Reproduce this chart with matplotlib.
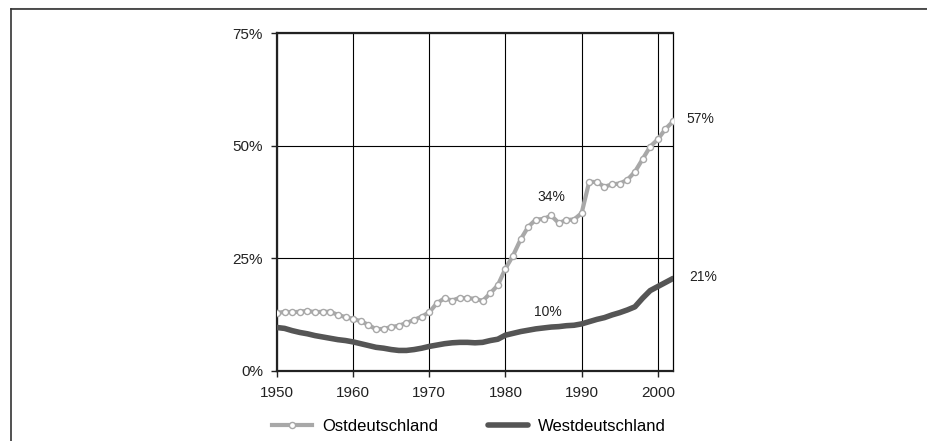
import numpy as np
import matplotlib
matplotlib.use('Agg')
import matplotlib.pyplot as plt
from matplotlib.lines import Line2D

plt.rcParams['font.family'] = ['Liberation Sans', 'DejaVu Sans']

# data (share in percent)
years = list(range(1950, 2003))

ost = [12.8, 13.1, 13.0, 13.1, 13.3, 13.0, 13.1, 13.1, 12.4, 11.9,
       11.5, 11.0, 10.2, 9.2, 9.3, 9.7, 10.0, 10.6, 11.3, 12.0,
       13.0, 15.0, 16.1, 15.6, 16.2, 16.1, 16.0, 15.5, 17.2, 19.0,
       22.7, 25.6, 29.2, 32.0, 33.6, 33.7, 34.5, 32.8, 33.5, 33.6,
       35.0, 42.0, 41.9, 40.9, 41.4, 41.6, 42.4, 44.2, 47.0, 49.8,
       51.4, 53.7, 55.4]

west = [9.6, 9.4, 8.9, 8.5, 8.2, 7.8, 7.5, 7.2, 6.9, 6.7,
        6.4, 6.0, 5.6, 5.2, 5.0, 4.7, 4.5, 4.5, 4.7, 5.0,
        5.4, 5.7, 6.0, 6.2, 6.3, 6.3, 6.2, 6.3, 6.7, 7.0,
        7.9, 8.3, 8.7, 9.0, 9.3, 9.5, 9.7, 9.8, 10.0, 10.1,
        10.4, 10.9, 11.4, 11.8, 12.4, 12.9, 13.5, 14.2, 16.1, 17.8,
        18.7, 19.6, 20.5]

labels = ['Ostdeutschland', 'Westdeutschland']

# annotation texts and where they sit (year, percent)
note_text = ['57%', '21%', '34%', '10%']
note_x = [2005.6, 2006.0, 1986.0, 1985.6]
note_y = [55.9, 20.8, 38.6, 13.0]

xticks = [1950, 1960, 1970, 1980, 1990, 2000]
yticks = [0, 25, 50, 75]

fig = plt.figure(figsize=(9.27, 4.41), dpi=100)
ax = fig.add_axes([0.2988, 0.1594, 0.7260 - 0.2988, 0.9247 - 0.1594])

ax.plot(years, ost, color='#a8a8a8', lw=3.0, marker='o', ms=4.4,
        mfc='white', mec='#a8a8a8', mew=1.0, label=labels[0], zorder=3)
ax.plot(years, west, color='#555555', lw=4.0, label=labels[1], zorder=3,
        solid_capstyle='round')

ax.set_xlim(1950, 2002)
ax.set_ylim(0, 75)
ax.set_xticks(xticks)
ax.set_yticks(yticks)
ax.set_yticklabels([f'{v}%' for v in yticks])
ax.grid(True, color='black', lw=0.8)
ax.set_axisbelow(True)

for s in ['left', 'bottom', 'top']:
  ax.spines[s].set_linewidth(1.6)
  ax.spines[s].set_color('#222222')
ax.spines['right'].set_linewidth(0.9)

ax.tick_params(axis='both', direction='out', length=4, width=1.0,
               labelsize=11, colors='#222222')
ax.tick_params(axis='x', pad=7)
ax.tick_params(axis='y', pad=6)

for t, x, y in zip(note_text, note_x, note_y):
  ax.text(x, y, t, ha='center', va='center', fontsize=10,
          color='#222222', clip_on=False)

fig.legend(loc='center', bbox_to_anchor=(0.506, 0.034), ncol=2,
           frameon=False, fontsize=12, handlelength=2.4, handletextpad=0.6,
           columnspacing=3.0, numpoints=1)

# outer frame (top and left edge)
fig.add_artist(Line2D([10.5 / 927, 1], [1 - 7.5 / 441, 1 - 7.5 / 441],
                      color='#cccccc', lw=0.8, transform=fig.transFigure))
fig.add_artist(Line2D([10.5 / 927, 1], [1 - 9.2 / 441, 1 - 9.2 / 441],
                      color='#333333', lw=1.2, transform=fig.transFigure))
fig.add_artist(Line2D([10.5 / 927, 10.5 / 927], [0, 1 - 9.2 / 441],
                      color='#333333', lw=1.2, transform=fig.transFigure))

fig.savefig('out.png', dpi=100)
